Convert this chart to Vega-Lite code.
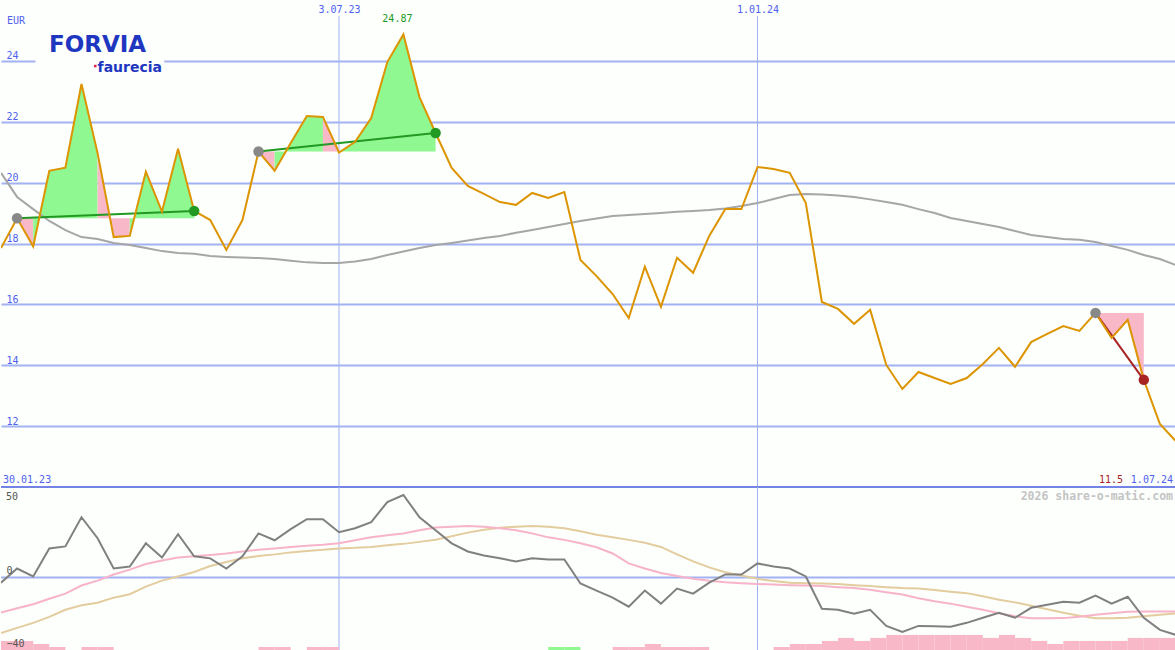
{
  "$schema": "https://vega.github.io/schema/vega-lite/v6.json",
  "padding": 0,
  "spacing": 0,
  "bounds": "flush",
  "background": "#fcfffc",
  "config": {"view": {"stroke": null}, "axis": {"labelFont": "DejaVu Sans Mono", "labelFontSize": 10, "minExtent": 0}},
  "datasets": {
    "main": [
      {"k":0,"d":"2023-02-06","p":17.85,"m":20.32,"o":-2.8,"pk":-19.3,"tn":-30.7},
      {"k":1,"d":"2023-02-13","p":18.83,"m":19.53,"o":5,"pk":-16.9,"tn":-27.8},
      {"k":2,"d":"2023-02-20","p":17.9,"m":19.13,"o":0.6,"pk":-14.7,"tn":-25},
      {"k":3,"d":"2023-02-27","p":20.39,"m":18.74,"o":16.1,"pk":-11.7,"tn":-21.7},
      {"k":4,"d":"2023-03-06","p":20.49,"m":18.44,"o":17.2,"pk":-8.9,"tn":-17.8},
      {"k":5,"d":"2023-03-13","p":23.24,"m":18.21,"o":33.3,"pk":-4.4,"tn":-15.3},
      {"k":6,"d":"2023-03-20","p":20.97,"m":18.15,"o":21.7,"pk":-1.7,"tn":-13.9},
      {"k":7,"d":"2023-03-27","p":18.21,"m":18.02,"o":5,"pk":1.7,"tn":-11.1},
      {"k":8,"d":"2023-04-03","p":18.25,"m":17.95,"o":6.1,"pk":4.4,"tn":-9.2},
      {"k":9,"d":"2023-04-10","p":20.36,"m":17.85,"o":18.9,"pk":7.5,"tn":-5},
      {"k":10,"d":"2023-04-17","p":19.05,"m":17.75,"o":11.1,"pk":9.4,"tn":-1.7},
      {"k":11,"d":"2023-04-24","p":21.11,"m":17.69,"o":23.9,"pk":11.1,"tn":0.6},
      {"k":12,"d":"2023-05-01","p":19.07,"m":17.66,"o":11.7,"pk":11.7,"tn":3.1},
      {"k":13,"d":"2023-05-08","p":18.77,"m":17.59,"o":10.6,"pk":12.5,"tn":6.4},
      {"k":14,"d":"2023-05-15","p":17.79,"m":17.56,"o":5,"pk":13.3,"tn":8.6},
      {"k":15,"d":"2023-05-22","p":18.77,"m":17.54,"o":11.7,"pk":14.4,"tn":10.6},
      {"k":16,"d":"2023-05-29","p":21.02,"m":17.52,"o":24.4,"pk":15.3,"tn":11.9},
      {"k":17,"d":"2023-06-05","p":20.39,"m":17.49,"o":20.6,"pk":16.1,"tn":12.8},
      {"k":18,"d":"2023-06-12","p":21.3,"m":17.43,"o":26.7,"pk":16.9,"tn":13.9},
      {"k":19,"d":"2023-06-19","p":22.19,"m":17.38,"o":32.2,"pk":17.5,"tn":14.7},
      {"k":20,"d":"2023-06-26","p":22.16,"m":17.36,"o":32.2,"pk":18.1,"tn":15.3},
      {"k":21,"d":"2023-07-03","p":20.99,"m":17.36,"o":25,"pk":18.9,"tn":16.1},
      {"k":22,"d":"2023-07-10","p":21.34,"m":17.41,"o":27.2,"pk":20.6,"tn":16.4},
      {"k":23,"d":"2023-07-17","p":22.12,"m":17.49,"o":30.6,"pk":22.2,"tn":16.9},
      {"k":24,"d":"2023-07-24","p":23.96,"m":17.62,"o":41.7,"pk":23.3,"tn":17.8},
      {"k":25,"d":"2023-07-31","p":24.87,"m":17.74,"o":45.6,"pk":24.3,"tn":18.6},
      {"k":26,"d":"2023-08-07","p":22.81,"m":17.85,"o":33.3,"pk":26.1,"tn":19.7},
      {"k":27,"d":"2023-08-14","p":21.63,"m":17.95,"o":26.1,"pk":27.6,"tn":20.9},
      {"k":28,"d":"2023-08-21","p":20.48,"m":18.02,"o":18.9,"pk":28.1,"tn":22.8},
      {"k":29,"d":"2023-08-28","p":19.89,"m":18.1,"o":14.4,"pk":28.5,"tn":24.8},
      {"k":30,"d":"2023-09-04","p":19.63,"m":18.18,"o":12.2,"pk":28.1,"tn":26.4},
      {"k":31,"d":"2023-09-11","p":19.36,"m":18.25,"o":10.6,"pk":27.2,"tn":27.5},
      {"k":32,"d":"2023-09-18","p":19.27,"m":18.35,"o":8.9,"pk":26.1,"tn":28.1},
      {"k":33,"d":"2023-09-25","p":19.66,"m":18.44,"o":10.6,"pk":24.4,"tn":28.5},
      {"k":34,"d":"2023-10-02","p":19.5,"m":18.54,"o":10,"pk":22.2,"tn":28.1},
      {"k":35,"d":"2023-10-09","p":19.69,"m":18.64,"o":10,"pk":20.8,"tn":27.2},
      {"k":36,"d":"2023-10-16","p":17.46,"m":18.74,"o":-3.3,"pk":18.9,"tn":25.6},
      {"k":37,"d":"2023-10-23","p":16.93,"m":18.82,"o":-7.2,"pk":16.7,"tn":23.6},
      {"k":38,"d":"2023-10-30","p":16.34,"m":18.9,"o":-11.1,"pk":13.3,"tn":22.2},
      {"k":39,"d":"2023-11-06","p":15.55,"m":18.94,"o":-16.1,"pk":7.8,"tn":20.8},
      {"k":40,"d":"2023-11-13","p":17.24,"m":18.97,"o":-7.2,"pk":5,"tn":19.2},
      {"k":41,"d":"2023-11-20","p":15.92,"m":19.0,"o":-14.4,"pk":2.5,"tn":16.9},
      {"k":42,"d":"2023-11-27","p":17.53,"m":19.04,"o":-6.1,"pk":0.8,"tn":12.8},
      {"k":43,"d":"2023-12-04","p":17.04,"m":19.07,"o":-8.9,"pk":-0.6,"tn":8.9},
      {"k":44,"d":"2023-12-11","p":18.25,"m":19.1,"o":-2.8,"pk":-1.7,"tn":5.6},
      {"k":45,"d":"2023-12-18","p":19.13,"m":19.15,"o":1.7,"pk":-2.6,"tn":2.9},
      {"k":46,"d":"2023-12-25","p":19.13,"m":19.23,"o":1.7,"pk":-3.1,"tn":1.1},
      {"k":47,"d":"2024-01-01","p":20.51,"m":19.33,"o":7.8,"pk":-3.5,"tn":-0.7},
      {"k":48,"d":"2024-01-08","p":20.45,"m":19.46,"o":6.1,"pk":-3.9,"tn":-1.9},
      {"k":49,"d":"2024-01-15","p":20.32,"m":19.59,"o":5,"pk":-4.2,"tn":-2.8},
      {"k":50,"d":"2024-01-22","p":19.33,"m":19.63,"o":0.6,"pk":-4.4,"tn":-3.1},
      {"k":51,"d":"2024-01-29","p":16.08,"m":19.61,"o":-17.2,"pk":-4.7,"tn":-3.3},
      {"k":52,"d":"2024-02-05","p":15.85,"m":19.58,"o":-17.8,"pk":-5.3,"tn":-3.6},
      {"k":53,"d":"2024-02-12","p":15.36,"m":19.53,"o":-20,"pk":-5.8,"tn":-4.2},
      {"k":54,"d":"2024-02-19","p":15.82,"m":19.45,"o":-17.8,"pk":-6.7,"tn":-4.7},
      {"k":55,"d":"2024-02-26","p":14.01,"m":19.36,"o":-26.7,"pk":-8.1,"tn":-5.3},
      {"k":56,"d":"2024-03-04","p":13.22,"m":19.27,"o":-30,"pk":-9.4,"tn":-5.8},
      {"k":57,"d":"2024-03-11","p":13.78,"m":19.13,"o":-26.7,"pk":-11.4,"tn":-6.1},
      {"k":58,"d":"2024-03-18","p":13.58,"m":19.0,"o":-26.9,"pk":-13.1,"tn":-6.9},
      {"k":59,"d":"2024-03-25","p":13.39,"m":18.84,"o":-27.2,"pk":-14.4,"tn":-7.8},
      {"k":60,"d":"2024-04-01","p":13.58,"m":18.74,"o":-25,"pk":-16.1,"tn":-8.6},
      {"k":61,"d":"2024-04-08","p":14.04,"m":18.64,"o":-22.2,"pk":-17.8,"tn":-10.3},
      {"k":62,"d":"2024-04-15","p":14.57,"m":18.54,"o":-19.4,"pk":-19.7,"tn":-12.2},
      {"k":63,"d":"2024-04-22","p":13.95,"m":18.41,"o":-22.2,"pk":-21.4,"tn":-13.7},
      {"k":64,"d":"2024-04-29","p":14.76,"m":18.28,"o":-16.7,"pk":-22.5,"tn":-15.6},
      {"k":65,"d":"2024-05-06","p":15.03,"m":18.21,"o":-15,"pk":-22.5,"tn":-17.5},
      {"k":66,"d":"2024-05-13","p":15.29,"m":18.15,"o":-13.3,"pk":-22.4,"tn":-19.4},
      {"k":67,"d":"2024-05-20","p":15.13,"m":18.12,"o":-13.9,"pk":-21.7,"tn":-21.1},
      {"k":68,"d":"2024-05-27","p":15.72,"m":18.05,"o":-10,"pk":-20.6,"tn":-22.5},
      {"k":69,"d":"2024-06-03","p":14.9,"m":17.92,"o":-14.4,"pk":-19.7,"tn":-22.5},
      {"k":70,"d":"2024-06-10","p":15.49,"m":17.79,"o":-10.6,"pk":-18.9,"tn":-22.2},
      {"k":71,"d":"2024-06-17","p":13.52,"m":17.62,"o":-22.2,"pk":-18.7,"tn":-21.4},
      {"k":72,"d":"2024-06-24","p":12.07,"m":17.49,"o":-28.9,"pk":-18.7,"tn":-20.6},
      {"k":73,"d":"2024-07-01","p":11.5,"m":17.29,"o":-31.7,"pk":-18.7,"tn":-19.8}
    ],
    "fills": [
      {"d":"2023-02-13","p":18.83,"g":"A1","c":"dn","b":18.83},
      {"d":"2023-02-20","p":17.9,"g":"A1","c":"dn","b":18.83},
      {"d":"2023-02-20","p":17.9,"g":"A2","c":"up","b":18.83},
      {"d":"2023-02-27","p":20.39,"g":"A2","c":"up","b":18.83},
      {"d":"2023-03-06","p":20.49,"g":"A2","c":"up","b":18.83},
      {"d":"2023-03-13","p":23.24,"g":"A2","c":"up","b":18.83},
      {"d":"2023-03-20","p":20.97,"g":"A2","c":"up","b":18.83},
      {"d":"2023-03-20","p":20.97,"g":"A3","c":"dn","b":18.83},
      {"d":"2023-03-27","p":18.21,"g":"A3","c":"dn","b":18.83},
      {"d":"2023-04-03","p":18.25,"g":"A3","c":"dn","b":18.83},
      {"d":"2023-04-03","p":18.25,"g":"A4","c":"up","b":18.83},
      {"d":"2023-04-10","p":20.36,"g":"A4","c":"up","b":18.83},
      {"d":"2023-04-17","p":19.05,"g":"A4","c":"up","b":18.83},
      {"d":"2023-04-24","p":21.11,"g":"A4","c":"up","b":18.83},
      {"d":"2023-05-01","p":19.07,"g":"A4","c":"up","b":18.83},
      {"d":"2023-05-29","p":21.02,"g":"B1","c":"dn","b":21.02},
      {"d":"2023-06-05","p":20.39,"g":"B1","c":"dn","b":21.02},
      {"d":"2023-06-05","p":20.39,"g":"B2","c":"up","b":21.02},
      {"d":"2023-06-12","p":21.3,"g":"B2","c":"up","b":21.02},
      {"d":"2023-06-19","p":22.19,"g":"B2","c":"up","b":21.02},
      {"d":"2023-06-26","p":22.16,"g":"B2","c":"up","b":21.02},
      {"d":"2023-06-26","p":22.16,"g":"B3","c":"dn","b":21.02},
      {"d":"2023-07-03","p":20.99,"g":"B3","c":"dn","b":21.02},
      {"d":"2023-07-03","p":20.99,"g":"B4","c":"up","b":21.02},
      {"d":"2023-07-10","p":21.34,"g":"B4","c":"up","b":21.02},
      {"d":"2023-07-17","p":22.12,"g":"B4","c":"up","b":21.02},
      {"d":"2023-07-24","p":23.96,"g":"B4","c":"up","b":21.02},
      {"d":"2023-07-31","p":24.87,"g":"B4","c":"up","b":21.02},
      {"d":"2023-08-07","p":22.81,"g":"B4","c":"up","b":21.02},
      {"d":"2023-08-14","p":21.63,"g":"B4","c":"up","b":21.02},
      {"d":"2024-05-27","p":15.72,"g":"C1","c":"dn","b":15.72},
      {"d":"2024-06-03","p":14.9,"g":"C1","c":"dn","b":15.72},
      {"d":"2024-06-10","p":15.49,"g":"C1","c":"dn","b":15.72},
      {"d":"2024-06-17","p":13.52,"g":"C1","c":"dn","b":15.72}
    ],
    "sig": [
      {"d":"2023-02-13","p":18.83,"g":"A","s":"buy","t":"start"},
      {"d":"2023-05-01","p":19.07,"g":"A","s":"buy","t":"buy"},
      {"d":"2023-05-29","p":21.02,"g":"B","s":"buy","t":"start"},
      {"d":"2023-08-14","p":21.63,"g":"B","s":"buy","t":"buy"},
      {"d":"2024-05-27","p":15.72,"g":"C","s":"sell","t":"start"},
      {"d":"2024-06-17","p":13.52,"g":"C","s":"sell","t":"sell"}
    ],
    "marks": [{"d":"2023-07-03"},{"d":"2024-01-01"}],
    "one": [{}],
    "bars": [
      {"d":"2023-02-06","d2":"2023-02-13","v":-35,"c":"dn"},
      {"d":"2023-02-13","d2":"2023-02-20","v":-35,"c":"dn"},
      {"d":"2023-02-20","d2":"2023-02-27","v":-36.67,"c":"dn"},
      {"d":"2023-02-27","d2":"2023-03-06","v":-38.33,"c":"dn"},
      {"d":"2023-03-13","d2":"2023-03-20","v":-38.33,"c":"dn"},
      {"d":"2023-03-20","d2":"2023-03-27","v":-38.33,"c":"dn"},
      {"d":"2023-05-29","d2":"2023-06-05","v":-38.33,"c":"dn"},
      {"d":"2023-06-05","d2":"2023-06-12","v":-38.33,"c":"dn"},
      {"d":"2023-06-19","d2":"2023-06-26","v":-38.33,"c":"dn"},
      {"d":"2023-06-26","d2":"2023-07-03","v":-38.33,"c":"dn"},
      {"d":"2023-10-02","d2":"2023-10-09","v":-38.33,"c":"up"},
      {"d":"2023-10-09","d2":"2023-10-16","v":-38.33,"c":"up"},
      {"d":"2023-10-30","d2":"2023-11-06","v":-38.33,"c":"dn"},
      {"d":"2023-11-06","d2":"2023-11-13","v":-38.33,"c":"dn"},
      {"d":"2023-11-13","d2":"2023-11-20","v":-36.67,"c":"dn"},
      {"d":"2023-11-20","d2":"2023-11-27","v":-38.33,"c":"dn"},
      {"d":"2023-11-27","d2":"2023-12-04","v":-38.33,"c":"dn"},
      {"d":"2023-12-04","d2":"2023-12-11","v":-38.33,"c":"dn"},
      {"d":"2024-01-08","d2":"2024-01-15","v":-38.33,"c":"dn"},
      {"d":"2024-01-15","d2":"2024-01-22","v":-36.67,"c":"dn"},
      {"d":"2024-01-22","d2":"2024-01-29","v":-36.67,"c":"dn"},
      {"d":"2024-01-29","d2":"2024-02-05","v":-35,"c":"dn"},
      {"d":"2024-02-05","d2":"2024-02-12","v":-33.33,"c":"dn"},
      {"d":"2024-02-12","d2":"2024-02-19","v":-35,"c":"dn"},
      {"d":"2024-02-19","d2":"2024-02-26","v":-33.33,"c":"dn"},
      {"d":"2024-02-26","d2":"2024-03-04","v":-31.67,"c":"dn"},
      {"d":"2024-03-04","d2":"2024-03-11","v":-31.67,"c":"dn"},
      {"d":"2024-03-11","d2":"2024-03-18","v":-31.67,"c":"dn"},
      {"d":"2024-03-18","d2":"2024-03-25","v":-31.67,"c":"dn"},
      {"d":"2024-03-25","d2":"2024-04-01","v":-31.67,"c":"dn"},
      {"d":"2024-04-01","d2":"2024-04-08","v":-31.67,"c":"dn"},
      {"d":"2024-04-08","d2":"2024-04-15","v":-33.33,"c":"dn"},
      {"d":"2024-04-15","d2":"2024-04-22","v":-31.67,"c":"dn"},
      {"d":"2024-04-22","d2":"2024-04-29","v":-33.33,"c":"dn"},
      {"d":"2024-04-29","d2":"2024-05-06","v":-35,"c":"dn"},
      {"d":"2024-05-06","d2":"2024-05-13","v":-36.67,"c":"dn"},
      {"d":"2024-05-13","d2":"2024-05-20","v":-35,"c":"dn"},
      {"d":"2024-05-20","d2":"2024-05-27","v":-35,"c":"dn"},
      {"d":"2024-05-27","d2":"2024-06-03","v":-35,"c":"dn"},
      {"d":"2024-06-03","d2":"2024-06-10","v":-35,"c":"dn"},
      {"d":"2024-06-10","d2":"2024-06-17","v":-33.33,"c":"dn"},
      {"d":"2024-06-17","d2":"2024-06-24","v":-33.33,"c":"dn"},
      {"d":"2024-06-24","d2":"2024-07-01","v":-33.33,"c":"dn"}
    ]
  },
  "vconcat": [
    {
      "width": 1175,
      "height": 487,
      "layer": [
        {
          "data": {"name": "marks"},
          "mark": {"type": "rule", "color": "#a3b2f2", "strokeWidth": 1},
          "encoding": {
            "x": {"field": "d", "type": "temporal",
              "scale": {"type": "utc", "domain": [{"year":2023,"month":2,"date":6,"utc":true},{"year":2024,"month":7,"date":1,"utc":true}]},
              "axis": {"orient": "top", "values": [{"year":2023,"month":7,"date":3,"utc":true},{"year":2024,"month":1,"date":1,"utc":true}],
                "labelExpr": "utcFormat(datum.value, '%-d.%m.%y')", "labelColor": "#5060f0", "labelPadding": -9, "labelBaseline": "middle", "labelAlign": "center",
                "grid": false, "ticks": false, "tickSize": 0, "domain": false, "title": null, "labelFlush": false}},
            "y": {"datum": 25.47},
            "y2": {"datum": 10}
          }
        },
        {
          "data": {"name": "fills"},
          "mark": {"type": "area", "interpolate": "linear", "opacity": 1, "clip": true},
          "encoding": {
            "x": {"field": "d", "type": "temporal"},
            "y": {"field": "p", "type": "quantitative", "stack": null,
              "scale": {"domain": [10, 26], "nice": false, "zero": false},
              "axis": {"values": [12,14,16,18,20,22,24], "grid": true, "gridColor": "#a3b2f2", "gridWidth": 2, "gridOpacity": 1,
                "labelAlign": "left", "labelPadding": -5, "labelBaseline": "bottom", "labelColor": "#5060f0",
                "ticks": false, "tickSize": 0, "domain": false, "title": null, "zindex": 0}},
            "y2": {"field": "b"},
            "detail": {"field": "g"},
            "color": {"field": "c", "type": "nominal", "legend": null,
              "scale": {"domain": ["up","dn","start","buy","sell"], "range": ["#90f890","#f8b8c8","#888888","#229922","#a82424"]}}
          }
        },
        {
          "data": {"name": "one"},
          "mark": {"type": "rect", "color": "#fcfffc"},
          "encoding": {
            "x": {"datum": {"year":2023,"month":2,"date":21,"utc":true}, "type": "temporal"},
            "x2": {"datum": {"year":2023,"month":4,"date":18,"utc":true}},
            "y": {"datum": 24.92},
            "y2": {"datum": 23.54}
          }
        },
        {
          "data": {"name": "main"},
          "mark": {"type": "line", "color": "#a6a6a6", "strokeWidth": 2, "clip": true},
          "encoding": {
            "x": {"field": "d", "type": "temporal"},
            "y": {"field": "m", "type": "quantitative"}
          }
        },
        {
          "data": {"name": "sig"},
          "mark": {"type": "line", "strokeWidth": 2},
          "encoding": {
            "x": {"field": "d", "type": "temporal"},
            "y": {"field": "p", "type": "quantitative"},
            "detail": {"field": "g"},
            "color": {"field": "s", "type": "nominal", "legend": null,
              "scale": {"domain": ["up","dn","start","buy","sell"], "range": ["#90f890","#f8b8c8","#888888","#229922","#a82424"]}}
          }
        },
        {
          "data": {"name": "main"},
          "mark": {"type": "line", "color": "#dc9400", "strokeWidth": 2, "clip": true},
          "encoding": {
            "x": {"field": "d", "type": "temporal"},
            "y": {"field": "p", "type": "quantitative"}
          }
        },
        {
          "data": {"name": "sig"},
          "mark": {"type": "point", "filled": true, "opacity": 1, "size": 110},
          "encoding": {
            "x": {"field": "d", "type": "temporal"},
            "y": {"field": "p", "type": "quantitative"},
            "color": {"field": "t", "type": "nominal", "legend": null,
              "scale": {"domain": ["up","dn","start","buy","sell"], "range": ["#90f890","#f8b8c8","#888888","#229922","#a82424"]}}
          }
        },
        {
          "data": {"name": "main"},
          "transform": [{"filter": "datum.k == 25"}],
          "mark": {"type": "text", "color": "#229922", "font": "DejaVu Sans Mono", "fontSize": 10, "align": "center", "baseline": "middle", "dx": -6, "dy": -15},
          "encoding": {
            "x": {"field": "d", "type": "temporal"},
            "y": {"field": "p", "type": "quantitative"},
            "text": {"field": "p", "type": "quantitative", "format": ".2f"}
          }
        },
        {
          "data": {"name": "main"},
          "transform": [{"filter": "datum.k == 73"}],
          "mark": {"type": "text", "color": "#a82424", "font": "DejaVu Sans Mono", "fontSize": 10, "align": "right", "baseline": "bottom", "dx": -53, "dy": -2},
          "encoding": {
            "x": {"field": "d", "type": "temporal"},
            "y": {"datum": 10},
            "text": {"field": "p", "type": "quantitative", "format": ".1f"}
          }
        },
        {
          "data": {"name": "one"},
          "mark": {"type": "text", "text": "EUR", "color": "#5060f0", "font": "DejaVu Sans Mono", "fontSize": 10, "align": "left", "baseline": "middle", "dx": 6, "dy": 21},
          "encoding": {
            "x": {"datum": {"year":2023,"month":2,"date":6,"utc":true}, "type": "temporal"},
            "y": {"datum": 26}
          }
        },
        {
          "data": {"name": "one"},
          "mark": {"type": "text", "text": "30.01.23", "color": "#5060f0", "font": "DejaVu Sans Mono", "fontSize": 10, "align": "left", "baseline": "bottom", "dx": 2, "dy": -2},
          "encoding": {
            "x": {"datum": {"year":2023,"month":2,"date":6,"utc":true}, "type": "temporal"},
            "y": {"datum": 10}
          }
        },
        {
          "data": {"name": "one"},
          "mark": {"type": "text", "text": "1.07.24", "color": "#5060f0", "font": "DejaVu Sans Mono", "fontSize": 10, "align": "right", "baseline": "bottom", "dx": -3, "dy": -2},
          "encoding": {
            "x": {"datum": {"year":2024,"month":7,"date":1,"utc":true}, "type": "temporal"},
            "y": {"datum": 10}
          }
        },
        {
          "data": {"name": "one"},
          "mark": {"type": "text", "text": "FORVIA", "color": "#1f36c1", "font": "DejaVu Sans", "fontWeight": "bold", "fontSize": 23, "align": "center", "baseline": "middle"},
          "encoding": {
            "x": {"datum": {"year":2023,"month":3,"date":20,"utc":true}, "type": "temporal"},
            "y": {"datum": 24.51}
          }
        },
        {
          "data": {"name": "one"},
          "mark": {"type": "text", "text": "faurecia", "color": "#1f36c1", "font": "DejaVu Sans", "fontWeight": "bold", "fontSize": 14, "align": "left", "baseline": "alphabetic"},
          "encoding": {
            "x": {"datum": {"year":2023,"month":3,"date":20,"utc":true}, "type": "temporal"},
            "y": {"datum": 23.635}
          }
        },
        {
          "data": {"name": "one"},
          "mark": {"type": "point", "filled": true, "opacity": 1, "size": 6, "color": "#e8173e", "shape": "square"},
          "encoding": {
            "x": {"datum": {"year":2023,"month":3,"date":19,"utc":true}, "type": "temporal"},
            "y": {"datum": 23.83}
          }
        },
        {
          "data": {"name": "one"},
          "mark": {"type": "rule", "color": "#7383e6", "strokeWidth": 2},
          "encoding": {"y": {"datum": 10}}
        }
      ]
    },
    {
      "width": 1175,
      "height": 163,
      "layer": [
        {
          "data": {"name": "marks"},
          "mark": {"type": "rule", "color": "#a3b2f2", "strokeWidth": 1},
          "encoding": {
            "x": {"field": "d", "type": "temporal",
              "scale": {"type": "utc", "domain": [{"year":2023,"month":2,"date":6,"utc":true},{"year":2024,"month":7,"date":1,"utc":true}]},
              "axis": null}
          }
        },
        {
          "data": {"name": "bars"},
          "mark": {"type": "rect"},
          "encoding": {
            "x": {"field": "d", "type": "temporal", "axis": null},
            "x2": {"field": "d2"},
            "y": {"field": "v", "type": "quantitative",
              "scale": {"domain": [-40, 50], "nice": false, "zero": false},
              "axis": {"values": [0, -40], "grid": false, "labelAlign": "left", "labelPadding": -5, "labelBaseline": "bottom", "labelOffset": -2,
                "labelColor": "#555555", "ticks": false, "tickSize": 0, "domain": false, "title": null, "zindex": 1, "labelFlush": false}},
            "y2": {"datum": -40},
            "color": {"field": "c", "type": "nominal", "legend": null,
              "scale": {"domain": ["up","dn","start","buy","sell"], "range": ["#90f890","#f8b8c8","#888888","#229922","#a82424"]}}
          }
        },
        {
          "data": {"name": "one"},
          "mark": {"type": "rule", "color": "#a3b2f2", "strokeWidth": 2},
          "encoding": {"y": {"datum": 0}}
        },
        {
          "data": {"name": "main"},
          "mark": {"type": "line", "color": "#e3cc9e", "strokeWidth": 2, "clip": true},
          "encoding": {
            "x": {"field": "d", "type": "temporal", "axis": null},
            "y": {"field": "tn", "type": "quantitative"}
          }
        },
        {
          "data": {"name": "main"},
          "mark": {"type": "line", "color": "#f7b3c9", "strokeWidth": 2, "clip": true},
          "encoding": {
            "x": {"field": "d", "type": "temporal", "axis": null},
            "y": {"field": "pk", "type": "quantitative"}
          }
        },
        {
          "data": {"name": "main"},
          "mark": {"type": "line", "color": "#808080", "strokeWidth": 2, "clip": true},
          "encoding": {
            "x": {"field": "d", "type": "temporal", "axis": null},
            "y": {"field": "o", "type": "quantitative"}
          }
        },
        {
          "data": {"name": "one"},
          "mark": {"type": "text", "text": "50", "color": "#555555", "font": "DejaVu Sans Mono", "fontSize": 10, "align": "left", "baseline": "top", "dx": 5, "dy": 5},
          "encoding": {
            "x": {"datum": {"year":2023,"month":2,"date":6,"utc":true}, "type": "temporal", "axis": null},
            "y": {"datum": 50}
          }
        },
        {
          "data": {"name": "one"},
          "mark": {"type": "text", "text": "2026 share-o-matic.com", "color": "#c4c4c4", "font": "DejaVu Sans Mono", "fontWeight": "bold", "fontSize": 11.5, "align": "right", "baseline": "top", "dx": -3, "dy": 4},
          "encoding": {
            "x": {"datum": {"year":2024,"month":7,"date":1,"utc":true}, "type": "temporal", "axis": null},
            "y": {"datum": 50}
          }
        }
      ]
    }
  ]
}
